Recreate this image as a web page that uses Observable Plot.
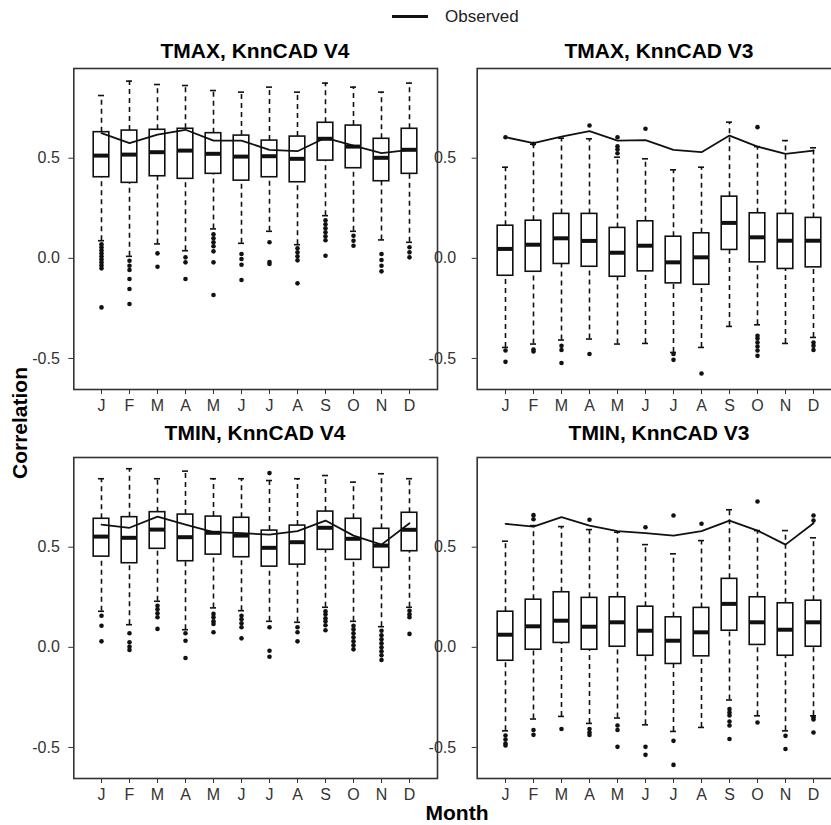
<!DOCTYPE html>
<html>
<head>
<meta charset="utf-8">
<script src="https://cdn.jsdelivr.net/npm/d3@7"></script>
<script src="https://cdn.jsdelivr.net/npm/@observablehq/plot@0.6"></script>
<style>
  html, body { margin: 0; padding: 0; background: #fff; }
  #fig { position: relative; width: 831px; height: 825px; overflow: hidden;
         font-family: "Liberation Sans", Arial, Helvetica, sans-serif; color: #000; background: #fff; }
  .slot { position: absolute; }
  .ptitle { position: absolute; font-weight: bold; font-size: 21px; line-height: 1; white-space: nowrap;
            transform: translateX(-50%); }
  .axtitle { position: absolute; font-weight: bold; font-size: 21px; line-height: 1; white-space: nowrap; }
</style>
</head>
<body>
<div id="fig">
  <div class="slot" style="left:392px; top:15px; width:36px; height:2.6px; background:#111;"></div>
  <div class="axtitle" style="left:445px; top:8px; font-weight:normal; font-size:17px; color:#222;">Observed</div>

  <div class="ptitle" style="left:255px; top:40px;">TMAX, KnnCAD V4</div>
  <div class="ptitle" style="left:659px; top:40px;">TMAX, KnnCAD V3</div>
  <div class="ptitle" style="left:255px; top:422px;">TMIN, KnnCAD V4</div>
  <div class="ptitle" style="left:659px; top:422px;">TMIN, KnnCAD V3</div>

  <div id="tl" class="slot" style="left:0px; top:60px;"></div>
  <div id="tr" class="slot" style="left:400px; top:60px;"></div>
  <div id="bl" class="slot" style="left:0px; top:449px;"></div>
  <div id="br" class="slot" style="left:400px; top:449px;"></div>

  <div class="axtitle" style="left:19px; top:423px; transform:translate(-50%,-50%) rotate(-90deg);">Correlation</div>
  <div class="axtitle" style="left:457px; top:802px; transform:translateX(-50%);">Month</div>
</div>
<script>
// ---------- data ----------
const monthKeys = ["Jan","Feb","Mar","Apr","May","Jun","Jul","Aug","Sep","Oct","Nov","Dec"];
const monthLabels = ["J","F","M","A","M","J","J","A","S","O","N","D"];
const yTicks = [-0.5, 0, 0.5];
const yDomain = [-0.655, 0.948];

// TMAX, KnnCAD V4
const tmaxV4_upper    = [0.813, 0.885, 0.868, 0.863, 0.838, 0.830, 0.855, 0.830, 0.875, 0.855, 0.830, 0.875];
const tmaxV4_q3       = [0.630, 0.638, 0.642, 0.647, 0.625, 0.613, 0.588, 0.608, 0.677, 0.663, 0.597, 0.647];
const tmaxV4_median   = [0.513, 0.518, 0.530, 0.538, 0.522, 0.508, 0.510, 0.497, 0.597, 0.558, 0.502, 0.542];
const tmaxV4_q1       = [0.405, 0.377, 0.410, 0.397, 0.422, 0.388, 0.405, 0.380, 0.488, 0.450, 0.385, 0.422];
const tmaxV4_lower    = [0.088, 0.010, 0.072, 0.038, 0.147, 0.075, 0.135, 0.068, 0.213, 0.135, 0.092, 0.080];
const tmaxV4_observed = [0.625, 0.575, 0.618, 0.642, 0.588, 0.588, 0.542, 0.535, 0.602, 0.563, 0.525, 0.542];
const tmaxV4_outliers = [
  [0.07, 0.055, 0.04, 0.025, 0.01, -0.005, -0.02, -0.035, -0.05, -0.245],
  [-0.012, -0.037, -0.058, -0.103, -0.153, -0.228],
  [0.025, -0.042],
  [0.005, -0.02, -0.103],
  [0.12, 0.10, 0.08, 0.06, 0.035, -0.02, -0.183],
  [0.022, -0.003, -0.032, -0.108],
  [0.08, -0.018, -0.028],
  [0.05, 0.03, 0.01, -0.01, -0.125],
  [0.19, 0.17, 0.15, 0.13, 0.11, 0.09, 0.013],
  [0.113, 0.088, 0.063],
  [0.022, -0.008, -0.037, -0.065],
  [0.055, 0.03, 0.005]
];

// TMAX, KnnCAD V3
const tmaxV3_upper    = [0.455, 0.570, 0.600, 0.597, 0.505, 0.497, 0.442, 0.455, 0.680, 0.558, 0.588, 0.552];
const tmaxV3_q3       = [0.163, 0.188, 0.222, 0.222, 0.152, 0.185, 0.108, 0.125, 0.308, 0.225, 0.222, 0.202];
const tmaxV3_median   = [0.047, 0.068, 0.100, 0.087, 0.028, 0.063, -0.020, 0.005, 0.177, 0.105, 0.088, 0.088];
const tmaxV3_q1       = [-0.087, -0.067, -0.028, -0.042, -0.092, -0.065, -0.125, -0.132, 0.042, -0.020, -0.053, -0.045];
const tmaxV3_lower    = [-0.445, -0.428, -0.408, -0.403, -0.428, -0.425, -0.470, -0.445, -0.340, -0.332, -0.425, -0.395];
const tmaxV3_observed = [0.605, 0.575, 0.608, 0.635, 0.588, 0.590, 0.542, 0.530, 0.613, 0.558, 0.522, 0.538];
const tmaxV3_outliers = [
  [0.605, -0.46, -0.517],
  [0.572, -0.455, -0.465],
  [-0.437, -0.458, -0.523],
  [0.663, -0.478],
  [0.525, 0.545, 0.56, 0.605],
  [0.647],
  [-0.478, -0.507],
  [-0.575],
  [],
  [0.655, -0.387, -0.40, -0.42, -0.44, -0.46, -0.487],
  [],
  [-0.42, -0.437, -0.458]
];

// TMIN, KnnCAD V4
const tminV4_upper    = [0.842, 0.892, 0.842, 0.880, 0.842, 0.842, 0.833, 0.842, 0.858, 0.825, 0.867, 0.842];
const tminV4_q3       = [0.642, 0.650, 0.675, 0.663, 0.653, 0.647, 0.583, 0.608, 0.678, 0.642, 0.592, 0.672];
const tminV4_median   = [0.553, 0.547, 0.588, 0.550, 0.572, 0.558, 0.497, 0.525, 0.597, 0.542, 0.508, 0.587];
const tminV4_q1       = [0.453, 0.420, 0.492, 0.430, 0.463, 0.450, 0.403, 0.413, 0.487, 0.437, 0.397, 0.480];
const tminV4_lower    = [0.180, 0.113, 0.230, 0.088, 0.197, 0.183, 0.130, 0.125, 0.200, 0.130, 0.103, 0.200];
const tminV4_observed = [0.613, 0.597, 0.653, 0.613, 0.575, 0.570, 0.563, 0.580, 0.633, 0.558, 0.513, 0.620];
const tminV4_outliers = [
  [0.158, 0.108, 0.03],
  [0.07, 0.025, 0.003, -0.013],
  [0.208, 0.19, 0.17, 0.15, 0.092],
  [0.07, 0.033, -0.053],
  [0.167, 0.15, 0.13, 0.117, 0.075],
  [0.158, 0.14, 0.12, 0.10, 0.045],
  [0.87, 0.10, -0.017, -0.047],
  [0.10, 0.075, 0.03],
  [0.18, 0.165, 0.145, 0.13, 0.11, 0.085],
  [0.108, 0.09, 0.07, 0.05, 0.03, 0.01, -0.01],
  [0.083, 0.06, 0.04, 0.02, 0.0, -0.02, -0.04, -0.063],
  [0.183, 0.165, 0.15, 0.067]
];

// TMIN, KnnCAD V3
const tminV3_upper    = [0.530, 0.608, 0.603, 0.588, 0.575, 0.513, 0.467, 0.533, 0.687, 0.583, 0.583, 0.547];
const tminV3_q3       = [0.178, 0.238, 0.275, 0.247, 0.250, 0.203, 0.150, 0.197, 0.342, 0.250, 0.220, 0.233];
const tminV3_median   = [0.063, 0.105, 0.133, 0.103, 0.125, 0.083, 0.033, 0.075, 0.217, 0.125, 0.088, 0.125];
const tminV3_q1       = [-0.067, -0.012, 0.022, -0.012, 0.003, -0.042, -0.083, -0.045, 0.083, 0.012, -0.042, 0.003];
const tminV3_lower    = [-0.417, -0.358, -0.345, -0.380, -0.353, -0.387, -0.420, -0.400, -0.263, -0.342, -0.417, -0.342];
const tminV3_observed = [0.617, 0.603, 0.650, 0.608, 0.580, 0.570, 0.558, 0.580, 0.633, 0.583, 0.513, 0.620];
const tminV3_outliers = [
  [-0.44, -0.46, -0.48, -0.49],
  [0.66, 0.64, -0.413, -0.437],
  [-0.408],
  [0.637, -0.408, -0.425, -0.438],
  [-0.39, -0.413, -0.497],
  [0.60, -0.497, -0.537],
  [0.658, -0.467, -0.587],
  [0.617],
  [-0.308, -0.325, -0.34, -0.37, -0.39, -0.458],
  [0.728, -0.375],
  [-0.442, -0.508],
  [0.658, 0.633, -0.35, -0.36, -0.425]
];

// ---------- drawing ----------
function panel(s, {width, marginLeft, tickPad}) {
  const rows = monthKeys.map((m, i) => ({
    month: m, upper: s.upper[i], q3: s.q3[i], median: s.median[i],
    q1: s.q1[i], lower: s.lower[i], observed: s.observed[i]
  }));
  const pts = s.outliers.flatMap((vals, i) => vals.map(v => ({month: monthKeys[i], value: v})));
  const boxInset = 6.2, capInset = 11, sw = 1.6;
  return Plot.plot({
    width, height: 361,
    marginTop: 8, marginBottom: 32, marginLeft, marginRight: 3,
    style: {background: "none", overflow: "visible", maxWidth: "none",
            fontFamily: "'Liberation Sans', Arial, Helvetica, sans-serif", fontSize: "16px", color: "#333"},
    x: {type: "band", domain: monthKeys, paddingInner: 0, paddingOuter: 0.46,
        tickFormat: d => monthLabels[monthKeys.indexOf(d)], tickSize: 5, tickPadding: 5, label: null},
    y: {domain: yDomain, ticks: yTicks, tickFormat: d => d.toFixed(1), tickSize: 5, tickPadding: tickPad, label: null},
    marks: [
      Plot.ruleX(rows, {x: "month", y1: "q3", y2: "upper", stroke: "#111", strokeWidth: sw, strokeDasharray: "5,4"}),
      Plot.ruleX(rows, {x: "month", y1: "lower", y2: "q1", stroke: "#111", strokeWidth: sw, strokeDasharray: "5,4"}),
      Plot.tickY(rows, {x: "month", y: "upper", stroke: "#111", strokeWidth: sw, insetLeft: capInset, insetRight: capInset}),
      Plot.tickY(rows, {x: "month", y: "lower", stroke: "#111", strokeWidth: sw, insetLeft: capInset, insetRight: capInset}),
      Plot.barY(rows, {x: "month", y1: "q1", y2: "q3", fill: "white", stroke: "#111", strokeWidth: sw,
                       insetLeft: boxInset, insetRight: boxInset}),
      Plot.tickY(rows, {x: "month", y: "median", stroke: "#111", strokeWidth: 4, insetLeft: boxInset, insetRight: boxInset}),
      Plot.dot(pts, {x: "month", y: "value", r: 2.3, fill: "#111", stroke: "none"}),
      Plot.line(rows, {x: "month", y: "observed", stroke: "#111", strokeWidth: 1.8}),
      Plot.frame({stroke: "#333", strokeWidth: 1.6})
    ]
  });
}

const L = {width: 440, marginLeft: 73.3, tickPad: 9};
const R = {width: 444, marginLeft: 76.7, tickPad: 16};

document.getElementById("tl").appendChild(panel({upper: tmaxV4_upper, q3: tmaxV4_q3, median: tmaxV4_median, q1: tmaxV4_q1, lower: tmaxV4_lower, observed: tmaxV4_observed, outliers: tmaxV4_outliers}, L));
document.getElementById("tr").appendChild(panel({upper: tmaxV3_upper, q3: tmaxV3_q3, median: tmaxV3_median, q1: tmaxV3_q1, lower: tmaxV3_lower, observed: tmaxV3_observed, outliers: tmaxV3_outliers}, R));
document.getElementById("bl").appendChild(panel({upper: tminV4_upper, q3: tminV4_q3, median: tminV4_median, q1: tminV4_q1, lower: tminV4_lower, observed: tminV4_observed, outliers: tminV4_outliers}, L));
document.getElementById("br").appendChild(panel({upper: tminV3_upper, q3: tminV3_q3, median: tminV3_median, q1: tminV3_q1, lower: tminV3_lower, observed: tminV3_observed, outliers: tminV3_outliers}, R));
</script>
</body>
</html>
